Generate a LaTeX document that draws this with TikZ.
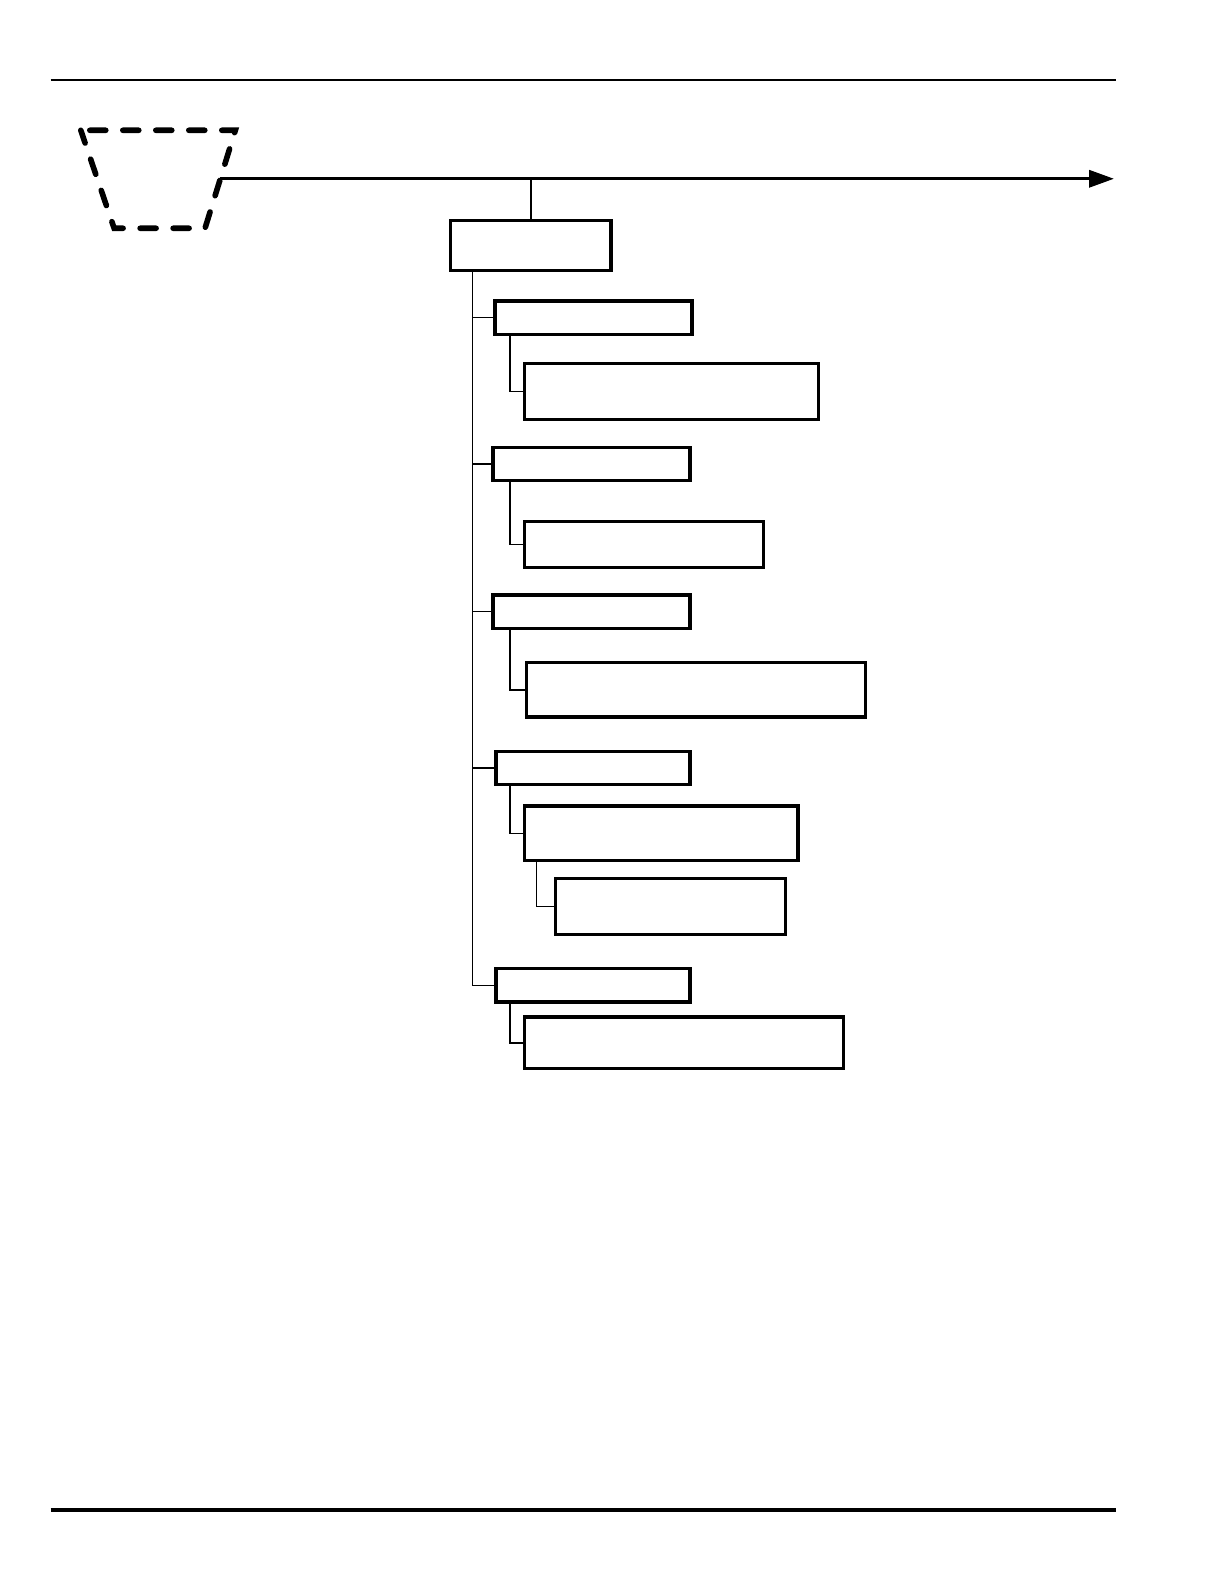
\documentclass[tikz,border=0pt]{standalone}
\usepackage{amssymb, mathtools, amsmath}
\usetikzlibrary{arrows.meta}

\tikzset{
  box/.style={draw, line width=1.65pt, inner sep=0pt, outer sep=0pt},
  link/.style={line width=0.75pt},
  bus/.style={line width=1.7pt, -{Triangle[length=12.5pt,width=8.5pt]}},
  rule/.style={line width=1pt}
}

\begin{document}
\begin{tikzpicture}[x=0.505pt,y=0.505pt,yscale=-1,xscale=1]
%set diagram page size: 612pt x 792pt
\useasboundingbox (0pt,0pt) rectangle (612pt,792pt);

%Straight Lines: page rules
\draw [rule] (50,79) -- (1105,79) ;
\draw [rule, line width=2pt] (50,1495) -- (1105,1495) ;

%Shape: Trapezoid (dashed)
\draw [line width=2.8pt, line cap=round, dash pattern=on 8pt off 8.5pt, dash phase=12pt] (80,129) -- (233,129) -- (203,226) -- (113,226) -- cycle ;

%Bus arrow
\coordinate (src) at (218,177);
\coordinate (dst) at (1103,177);
\draw [bus] (src) -- (dst) ;

%Shape: Rectangles
\node [box, minimum width=80.3pt, minimum height=25.25pt] (root) at (525.5,243) {};
\node [box, minimum width=98.5pt, minimum height=16.7pt] (grpA) at (587.5,314.5) {};
\node [box, minimum width=98.5pt, minimum height=16.7pt] (grpB) at (585.5,459.5) {};
\node [box, minimum width=98.5pt, minimum height=16.7pt] (grpC) at (585.5,605.5) {};
\node [box, minimum width=97pt, minimum height=16.7pt] (grpD) at (587,760.5) {};
\node [box, minimum width=97pt, minimum height=16.7pt] (grpE) at (587,975.5) {};
\node [box, minimum width=147pt, minimum height=27.8pt] (itemA) at (664.5,387.5) {};
\node [box, minimum width=119.7pt, minimum height=23.2pt] (itemB) at (637.5,539) {};
\node [box, minimum width=169.7pt, minimum height=27.3pt] (itemC) at (689,683) {};
\node [box, minimum width=136.8pt, minimum height=27.3pt] (itemD) at (654.5,825) {};
\node [box, minimum width=115.1pt, minimum height=27.8pt] (itemDD) at (664,897.5) {};
\node [box, minimum width=159.6pt, minimum height=25.75pt] (itemE) at (677,1032.5) {};

%Straight Lines: tree connectors
\coordinate (spine) at (468,0);
\coordinate (sub) at (505,0);
\coordinate (subsub) at (531,0);
\draw [link] (root.north) -- (root.north |- src) ;
\draw [link] (root.south -| spine) |- (grpE.west) ;
\foreach \g in {grpA,grpB,grpC,grpD}
  \draw [link] (spine |- \g.west) -- (\g.west) ;
\foreach \g/\i in {grpA/itemA,grpB/itemB,grpC/itemC,grpD/itemD,grpE/itemE}
  \draw [link] (\g.south -| sub) |- (\i.west) ;
\draw [link] (itemD.south -| subsub) |- (itemDD.west) ;

\end{tikzpicture}
\end{document}
